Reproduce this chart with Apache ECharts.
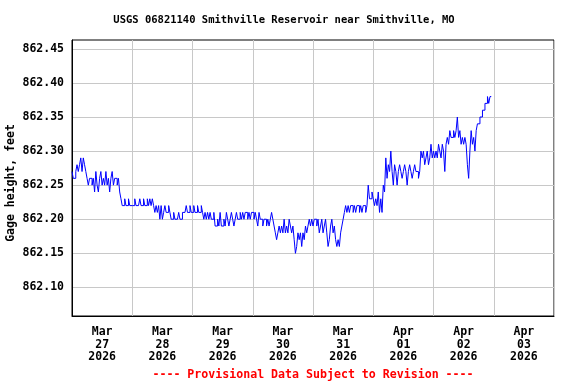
<!DOCTYPE html>
<html>
<head>
<meta charset="utf-8">
<script src="https://cdn.jsdelivr.net/npm/echarts@6/dist/echarts.min.js"></script>
<style>
html,body{margin:0;padding:0;background:#fff;}
#chart{width:576px;height:384px;}
</style>
</head>
<body>
<div id="chart"></div>
<script>
// 30-minute gage height readings (feet), one array per day, starting at 00:00
var mar27 = [862.27,862.26,862.26,862.27,862.28,862.27,862.28,862.29,862.27,862.29,862.28,862.27,862.26,862.25,862.26,862.26,862.25,862.26,862.24,862.27,862.25,862.24,862.26,862.27,862.25,862.26,862.25,862.27,862.25,862.26,862.24,862.26,862.27,862.25,862.26,862.26,862.25,862.26,862.24,862.23,862.22,862.22,862.23,862.22,862.22,862.23,862.22,862.22];
var mar28 = [862.22,862.22,862.23,862.22,862.22,862.22,862.23,862.22,862.22,862.23,862.22,862.22,862.23,862.22,862.23,862.22,862.23,862.22,862.21,862.22,862.21,862.22,862.20,862.22,862.20,862.21,862.22,862.21,862.21,862.22,862.21,862.20,862.20,862.21,862.20,862.20,862.20,862.21,862.20,862.20,862.21,862.21,862.21,862.22,862.21,862.21,862.22,862.21];
var mar29 = [862.21,862.22,862.21,862.21,862.22,862.21,862.21,862.22,862.21,862.20,862.21,862.20,862.21,862.20,862.21,862.20,862.20,862.21,862.19,862.19,862.20,862.19,862.21,862.19,862.19,862.20,862.19,862.21,862.20,862.19,862.20,862.21,862.20,862.19,862.20,862.21,862.20,862.20,862.21,862.20,862.21,862.20,862.21,862.21,862.20,862.21,862.20,862.21];
var mar30 = [862.21,862.20,862.21,862.20,862.19,862.21,862.20,862.20,862.19,862.20,862.20,862.19,862.20,862.19,862.20,862.21,862.20,862.19,862.18,862.17,862.18,862.19,862.18,862.19,862.18,862.20,862.18,862.19,862.18,862.20,862.19,862.18,862.19,862.17,862.15,862.16,862.18,862.17,862.18,862.16,862.18,862.17,862.19,862.18,862.19,862.20,862.19,862.20];
var mar31 = [862.19,862.20,862.20,862.19,862.20,862.18,862.19,862.20,862.18,862.19,862.20,862.18,862.16,862.17,862.19,862.20,862.18,862.19,862.17,862.16,862.17,862.16,862.18,862.19,862.20,862.21,862.22,862.21,862.22,862.21,862.22,862.22,862.21,862.22,862.21,862.22,862.22,862.21,862.22,862.21,862.22,862.22,862.21,862.22,862.25,862.23,862.23,862.24];
var apr01 = [862.23,862.22,862.23,862.22,862.24,862.21,862.23,862.21,862.25,862.24,862.29,862.26,862.28,862.27,862.30,862.27,862.25,862.28,862.27,862.25,862.27,862.28,862.27,862.26,862.27,862.28,862.27,862.25,862.27,862.28,862.27,862.26,862.27,862.28,862.27,862.27,862.26,862.27,862.30,862.29,862.30,862.28,862.29,862.30,862.28,862.29,862.31,862.29];
var apr02 = [862.30,862.29,862.30,862.29,862.31,862.30,862.29,862.31,862.30,862.27,862.31,862.32,862.31,862.33,862.32,862.32,862.33,862.32,862.33,862.35,862.32,862.33,862.31,862.32,862.31,862.32,862.31,862.28,862.26,862.30,862.33,862.31,862.32,862.30,862.33,862.34,862.34,862.35,862.35,862.36,862.36,862.37,862.37,862.38,862.37,862.38,862.38];

var days = [mar27, mar28, mar29, mar30, mar31, apr01, apr02];
var dayStarts = ['2026-03-27','2026-03-28','2026-03-29','2026-03-30','2026-03-31','2026-04-01','2026-04-02'];
var axisDays = ['2026-03-27','2026-03-28','2026-03-29','2026-03-30','2026-03-31','2026-04-01','2026-04-02','2026-04-03','2026-04-04'];
var xTickLabels = ['Mar\n27\n2026','Mar\n28\n2026','Mar\n29\n2026','Mar\n30\n2026','Mar\n31\n2026','Apr\n01\n2026','Apr\n02\n2026','Apr\n03\n2026'];
var yTicks = [862.10, 862.15, 862.20, 862.25, 862.30, 862.35, 862.40, 862.45];

var HOUR = 3600000, DAY = 24 * HOUR;
function ts(s) { return Date.parse(s + 'T00:00:00Z'); }

var seriesData = [];
days.forEach(function (arr, d) {
  var t0 = ts(dayStarts[d]);
  arr.forEach(function (v, i) { seriesData.push([t0 + i * HOUR / 2, v]); });
});

var midnights = axisDays.map(ts);
var noons = axisDays.slice(0, 8).map(function (s) { return ts(s) + DAY / 2; });

var FONT = 'DejaVu Sans Mono';
var chart = echarts.init(document.getElementById('chart'), null, { renderer: 'canvas' });
chart.setOption({
  animation: false,
  backgroundColor: '#ffffff',
  grid: { left: 72, right: 22, top: 40, bottom: 68, show: true, borderColor: '#000', borderWidth: 1, backgroundColor: 'transparent' },
  graphic: [
    { type: 'text', x: 284, y: 20, style: { text: 'USGS 06821140 Smithville Reservoir near Smithville, MO', font: 'bold 10.5px "DejaVu Sans Mono"', fill: '#000', align: 'center', verticalAlign: 'middle' } },
    { type: 'text', x: 11, y: 183, rotation: Math.PI / 2, style: { text: 'Gage height, feet', font: 'bold 11.5px "DejaVu Sans Mono"', fill: '#000', align: 'center', verticalAlign: 'middle' } },
    { type: 'text', x: 313, y: 375, style: { text: '---- Provisional Data Subject to Revision ----', font: 'bold 11.6px "DejaVu Sans Mono"', fill: '#ff0000', align: 'center', verticalAlign: 'middle' } }
  ],
  xAxis: {
    type: 'value',
    min: midnights[0],
    max: midnights[8],
    axisLine: { show: true, onZero: false, lineStyle: { color: '#000', width: 1 } },
    axisTick: { show: false, customValues: midnights },
    splitLine: { show: true, lineStyle: { color: '#c8c8c8', width: 1 } },
    axisLabel: {
      customValues: noons,
      margin: 10,
      lineHeight: 12.5,
      color: '#000',
      fontFamily: FONT,
      fontWeight: 'bold',
      fontSize: 11.5,
      formatter: function (v) {
        var idx = Math.round((v - noons[0]) / DAY);
        return xTickLabels[idx] || '';
      }
    }
  },
  yAxis: {
    type: 'value',
    min: 862.058,
    max: 862.463,
    axisLine: { show: true, lineStyle: { color: '#000', width: 1 } },
    axisTick: { show: false, customValues: yTicks },
    splitLine: { show: true, lineStyle: { color: '#c8c8c8', width: 1 } },
    axisLabel: {
      customValues: yTicks,
      margin: 8,
      color: '#000',
      fontFamily: FONT,
      fontWeight: 'bold',
      fontSize: 11.5,
      formatter: function (v) { return v.toFixed(2); }
    }
  },
  series: [{
    type: 'line',
    step: 'end',
    data: seriesData,
    showSymbol: false,
    symbol: 'none',
    lineStyle: { color: '#0000ff', width: 1 },
    emphasis: { disabled: true }
  }]
});
</script>
</body>
</html>
